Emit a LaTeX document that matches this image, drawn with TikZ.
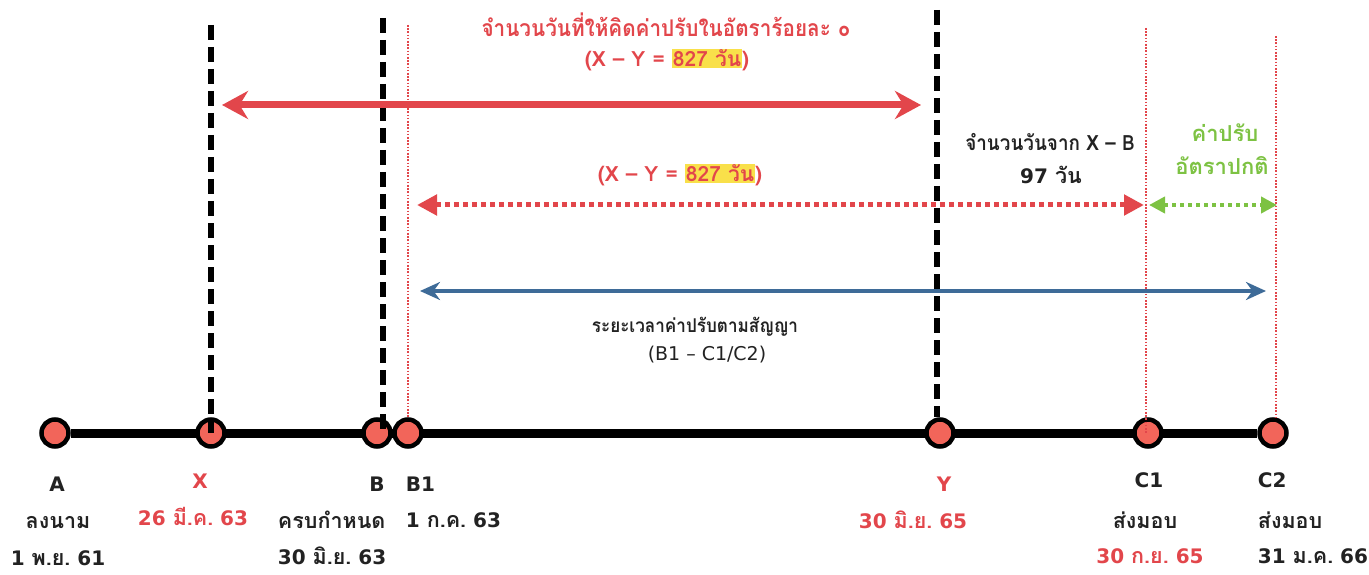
\documentclass[tikz,border=0pt]{standalone}
\usepackage{fontspec}
\setmainfont[Script=Thai]{Loma}
\newfontfamily\latn[Scale=0.93]{DejaVu Sans}
\usetikzlibrary{arrows.meta,backgrounds}
\definecolor{finered}{HTML}{E2464B}
\definecolor{dotfill}{HTML}{F2655A}
\definecolor{termblue}{HTML}{3E6B98}
\definecolor{normgreen}{HTML}{7DC243}
\definecolor{hlyellow}{HTML}{F9E04A}
\definecolor{labgray}{HTML}{222222}
\newcommand{\hilite}[1]{{\setlength{\fboxsep}{1pt}\colorbox{hlyellow}{#1}}}
\newcommand{\narrow}[1]{\scalebox{0.9}[1]{#1}}
\tikzset{
  event/.style={circle,fill=dotfill,draw=black,line width=4.5pt,minimum size=27pt,inner sep=0pt},
  timeline/.style={line width=9pt,black},
  cutline/.style={line width=6pt,black,dash pattern=on 15pt off 7pt},
  markline/.style={line width=1.6pt,finered,dash pattern=on 1.6pt off 1.6pt},
  lab/.style={inner sep=0.75pt,font=\fontsize{21}{24}\selectfont\bfseries,text=labgray},
  redlab/.style={lab,text=finered},
  datelab/.style={lab,font=\fontsize{21.5}{25}\selectfont\bfseries},
}
\begin{document}
\begin{tikzpicture}[x=1pt,y=1pt,yscale=-1]
\useasboundingbox (0,0) rectangle (1369,575);

% events on the time line
\node [event] (A)  at (55,433)   {};
\node [event] (X)  at (211,433)  {};
\node [event] (B)  at (377,433)  {};
\node [event] (B1) at (408,433)  {};
\node [event] (Y)  at (940,433)  {};
\node [event] (C1) at (1148,433) {};
\node [event] (C2) at (1273,433) {};
\begin{scope}[on background layer]
  \draw [timeline] (A) -- (C2);
\end{scope}

% vertical markers
\coordinate (Xtop)  at (211,25);
\coordinate (Btop)  at (383,18);
\coordinate (Ytop)  at (937,10);
\coordinate (B1top) at (408,25);
\coordinate (C1top) at (1146,28);
\coordinate (C2top) at (1276,36);
\draw [cutline] (Xtop) -- (Xtop |- X.center);
\draw [cutline] (Btop) -- (Btop |- B.center);
\draw [cutline] (Ytop) -- (Ytop |- Y.north);
\draw [markline] (B1top) -- (B1top |- B1.north);
\draw [markline] (C1top) -- (C1top |- C1.center);
\draw [markline] (C2top) -- (C2top |- C2.north);

% spans
\coordinate (rl) at (222,105);
\coordinate (rr) at (921,105);
\draw [finered,line width=7pt,{Stealth[length=26pt,width=28pt]}-{Stealth[length=26pt,width=28pt]}] (rl) -- (rr);
\coordinate (dl) at (417,205);
\coordinate (dr) at (1144,205);
\draw [finered,line width=5pt,dash pattern=on 5pt off 4pt,{Triangle[length=20pt,width=20pt]}-{Triangle[length=20pt,width=20pt]}] (dl) -- (dr);
\coordinate (gl) at (1149,205);
\coordinate (gr) at (1277,205);
\draw [normgreen,line width=4pt,dash pattern=on 4pt off 4pt,{Triangle[length=16pt,width=16pt]}-{Triangle[length=16pt,width=16pt]}] (gl) -- (gr);
\coordinate (bl) at (420,291);
\coordinate (br) at (1266,291);
\draw [termblue,line width=4pt,{Stealth[length=20pt,width=18pt]}-{Stealth[length=20pt,width=18pt]}] (bl) -- (br);

% upper labels
\node [redlab,font=\fontsize{23}{26}\selectfont\bfseries] (title) at (666,25) {\narrow{จำนวนวันที่ให้คิดค่าปรับในอัตราร้อยละ ๐}};
\node [redlab] (xy1)   at (667,60)  {(X – Y = \hilite{827 วัน})};
\node [redlab] (xy2)   at (680,175) {(X – Y = \hilite{827 วัน})};
\node [lab] (xb1) at (1050,142) {\narrow{จำนวนวันจาก X – B}};
\node [datelab] (xb2)  at (1051,175) {{\latn 97} วัน};
\node [lab,text=normgreen,font=\fontsize{22}{25}\selectfont\bfseries] (ng1) at (1225,133) {ค่าปรับ};
\node [lab,text=normgreen,font=\fontsize{22}{25}\selectfont\bfseries] (ng2) at (1222,166) {อัตราปกติ};
\node [lab,font=\fontsize{19}{22}\selectfont\bfseries] (ct1) at (695,327) {\narrow{ระยะเวลาค่าปรับตามสัญญา}};
\node [lab,font=\fontsize{20.4}{24}\selectfont\latn] (ct2) at (707,355) {(B1 – C1/C2)};

% lower labels
\node [datelab] (Aname) at (57,484)  {\latn A};
\node [datelab] (Ad1)   at (58,523)  {ลงนาม};
\node [datelab] (Ad2)   at (58,558)  {{\latn 1 }พ.ย.{\latn\ 61}};
\node [datelab,text=finered] (Xname) at (200,481) {\latn X};
\node [datelab,text=finered] (Xd1)   at (193,517) {{\latn 26 }มี.ค.{\latn\ 63}};
\node [datelab] (Bname) at (377,484) {\latn B};
\node [datelab,anchor=west] (Bd1) at (277,520) {ครบกำหนด};
\node [datelab,anchor=west] (Bd2) at (277,556) {{\latn 30 }มิ.ย.{\latn\ 63}};
\node [datelab,anchor=west] (B1name) at (405,484) {\latn B1};
\node [datelab,anchor=west] (B1d1)   at (405,520) {{\latn 1 }ก.ค.{\latn\ 63}};
\node [datelab,text=finered] (Yname) at (944,484) {\latn Y};
\node [datelab,text=finered] (Yd1)   at (913,520) {{\latn 30 }มิ.ย.{\latn\ 65}};
\node [datelab] (C1name) at (1149,480) {\latn C1};
\node [datelab] (C1d1)   at (1145,520) {ส่งมอบ};
\node [datelab,text=finered] (C1d2) at (1150,556) {{\latn 30 }ก.ย.{\latn\ 65}};
\node [datelab,anchor=west] (C2name) at (1257,480) {\latn C2};
\node [datelab,anchor=west] (C2d1)   at (1257,520) {ส่งมอบ};
\node [datelab,anchor=west] (C2d2)   at (1257,556) {{\latn 31 }ม.ค.{\latn\ 66}};
\end{tikzpicture}
\end{document}
